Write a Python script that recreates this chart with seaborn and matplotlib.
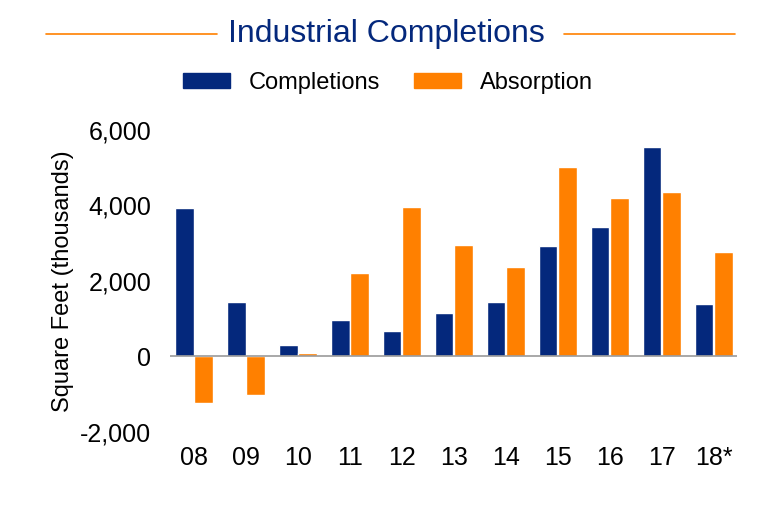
import numpy as np
import pandas as pd
import matplotlib
matplotlib.use("Agg")
import matplotlib.pyplot as plt
from matplotlib.patches import Patch
import seaborn as sns

years = ["08", "09", "10", "11", "12", "13", "14", "15", "16", "17", "18*"]
completions = [3930, 1430, 290, 950, 660, 1140, 1430, 2920, 3425, 5545, 1385]
absorption = [-1245, -1030, 100, 2200, 3950, 2940, 2360, 5015, 4200, 4345, 2775]

df = pd.DataFrame({"year": years * 2,
                   "value": completions + absorption,
                   "series": ["Completions"] * len(years) + ["Absorption"] * len(years)})

sns.set_style("white")
plt.rcParams['font.family'] = ['Liberation Sans', 'DejaVu Sans']
plt.rcParams['text.color'] = 'black'

fig = plt.figure(figsize=(7.68, 5.24), dpi=100)
ax = fig.add_axes([0.222, 0.176, 0.738, 0.576])
sns.barplot(data=df, x="year", y="value", hue="series",
            palette=["#04287c", "#ff8000"], width=0.75, gap=0.04,
            saturation=1, ax=ax, legend=False)

ax.set_ylim(-2000, 6000)
ticks = [-2000, 0, 2000, 4000, 6000]
ax.set_yticks(ticks)
ax.set_yticklabels([f"{v:,}" for v in ticks], fontsize=18, color="black")
ax.tick_params(axis="x", labelsize=18, length=0, pad=10, labelcolor="black")
ax.tick_params(axis="y", length=0, pad=14)
ax.set_xlabel("")
ax.set_ylabel("Square Feet (thousands)", fontsize=17, color="black")
ax.set_xlim(-0.45, len(years) - 0.55)
for s in ax.spines.values():
    s.set_visible(False)
ax.axhline(0, color="#999999", lw=1.2)

fig.text(0.503, 0.935, "Industrial Completions", ha="center", va="center",
         fontsize=23, color="#04287c")
fig.add_artist(plt.Line2D([0.06, 0.282], [0.935, 0.935], color="#ff8000", lw=1.2))
fig.add_artist(plt.Line2D([0.735, 0.957], [0.935, 0.935], color="#ff8000", lw=1.2))

handles = [Patch(color="#04287c", label="Completions"), Patch(color="#ff8000", label="Absorption")]
fig.legend(handles=handles, loc="center", bbox_to_anchor=(0.505, 0.842), ncol=2,
           frameon=False, fontsize=17, handlelength=2.0, handleheight=0.6,
           columnspacing=1.4, handletextpad=0.8)

fig.savefig("out.png", dpi=100)
